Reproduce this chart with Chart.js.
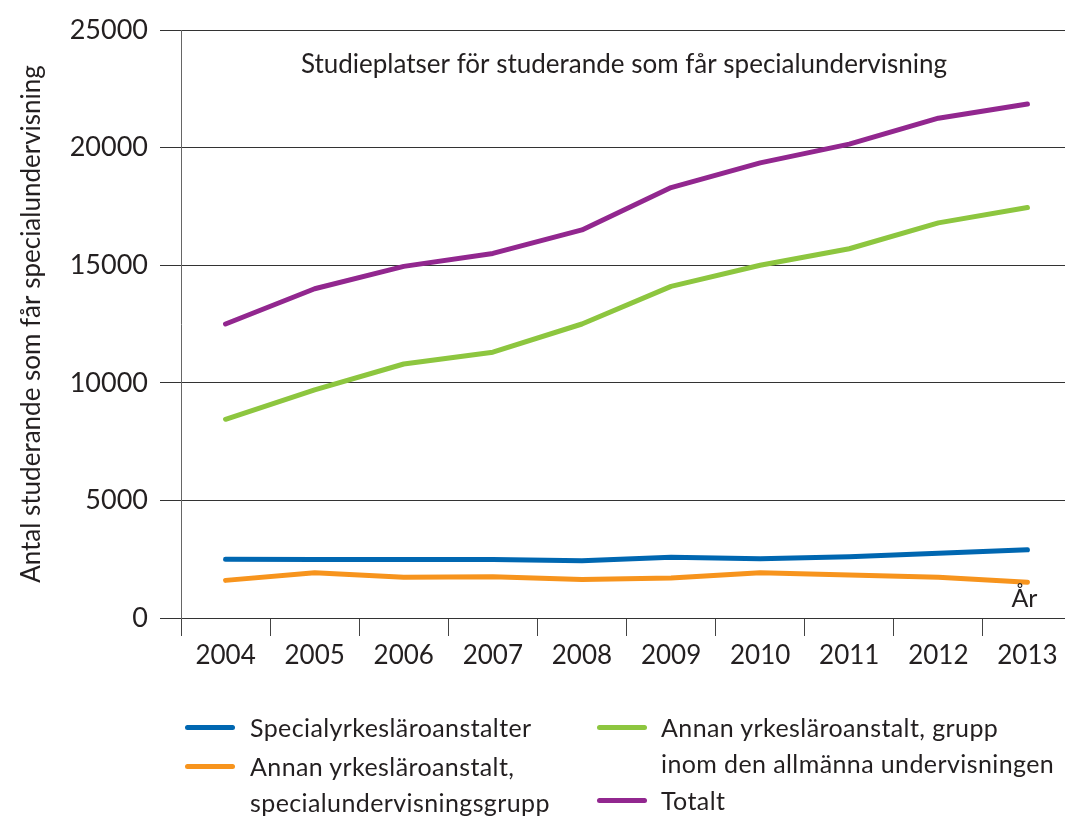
<!DOCTYPE html>
<html><head><meta charset="utf-8">
<script src="https://cdn.jsdelivr.net/npm/chart.js@4.4.0/dist/chart.umd.min.js"></script>
<style>
html,body{margin:0;padding:0;background:#fff;overflow:hidden;width:1065px;height:817px;}
#wrap{position:absolute;left:0;top:0;width:1072px;height:690px;}
#legend{position:absolute;left:0;top:0;width:1065px;height:817px;pointer-events:none;font-family:Lato,sans-serif;color:#231f20;font-size:25px;letter-spacing:0.4px;}
.sw{position:absolute;width:50px;height:5px;border-radius:3px;}
.tx{position:absolute;line-height:36px;white-space:nowrap;}
</style></head>
<body>
<div id="wrap"><canvas id="c" width="1072" height="690"></canvas></div>
<div id="legend"></div>
<script>
const years = ['2004','2005','2006','2007','2008','2009','2010','2011','2012','2013'];
const specialyrkes = [2500,2490,2490,2490,2430,2580,2520,2600,2750,2900];
const annanSpecialgrupp = [1600,1925,1730,1755,1640,1700,1925,1825,1730,1515];
const annanAllman = [8450,9700,10800,11300,12500,14100,15000,15700,16800,17450];
const totalt = [12500,14000,14950,15500,16500,18300,19350,20150,21250,21850];
const yTickValues = [0,5000,10000,15000,20000,25000];
const seriesLabels = [
  ['Specialyrkesläroanstalter'],
  ['Annan yrkesläroanstalt,','specialundervisningsgrupp'],
  ['Annan yrkesläroanstalt, grupp','inom den allmänna undervisningen'],
  ['Totalt']
];
const chartTitle = 'Studieplatser för studerande som får specialundervisning';
const yTitle = 'Antal studerande som får specialundervisning';
const xUnit = 'År';

const colors = ['#0067b1','#f7941d','#8dc63f','#92278f'];
const FONT = 'Lato';
const TEXT = '#231f20';

const seriesData = [specialyrkes, annanSpecialgrupp, annanAllman, totalt];
const datasets = seriesData.map((d,i)=>({
  label: seriesLabels[i].join(' '),
  data: d,
  borderColor: colors[i],
  backgroundColor: colors[i],
  borderWidth: 5,
  borderCapStyle: 'round',
  borderJoinStyle: 'round',
  pointRadius: 0,
  tension: 0,
  fill: false
}));

const annot = {
  id: 'annot',
  afterDraw(c){
    const ctx = c.ctx, a = c.chartArea;
    ctx.save();
    ctx.fillStyle = TEXT;
    ctx.textAlign = 'center';
    ctx.textBaseline = 'middle';
    ctx.font = '26px ' + FONT;
    ctx.fillText(chartTitle, (a.left + 1065) / 2 + 1, a.top + 35);
    ctx.font = '25px ' + FONT;
    ctx.fillText(xUnit, c.scales.x.getPixelForValue(years.length - 1) - 3, a.bottom - 19);
    ctx.restore();
  }
};

const CANVAS_H = 690, AXIS_BOTTOM = 618, AXIS_LEFT = 181;

new Chart(document.getElementById('c'), {
  type: 'line',
  data: { labels: years, datasets },
  plugins: [annot],
  options: {
    responsive: false,
    animation: false,
    layout: { padding: { top: 30, right: 0, left: 0, bottom: 0 } },
    plugins: { legend: { display: false }, tooltip: { enabled: false } },
    scales: {
      x: {
        type: 'category',
        offset: true,
        grid: { offset: true, drawOnChartArea: false, drawTicks: true, tickLength: 18, color: '#444', lineWidth: 1 },
        border: { display: true, color: '#333', width: 1 },
        ticks: { font: { family: FONT, size: 26 }, color: TEXT, padding: 4, maxRotation: 0, autoSkip: false },
        afterFit(s){ s.height = CANVAS_H - AXIS_BOTTOM; }
      },
      y: {
        min: yTickValues[0],
        max: yTickValues[yTickValues.length - 1],
        afterBuildTicks(s){ s.ticks = yTickValues.map(v => ({ value: v })); },
        ticks: { font: { family: FONT, size: 27 }, color: TEXT, padding: 12, callback: v => String(v) },
        grid: { color: '#333', tickLength: 21, lineWidth: 1 },
        border: { display: true, color: '#666', width: 1 },
        title: { display: true, text: yTitle, color: TEXT, font: { family: FONT, size: 26 }, padding: { top: 16, bottom: 0 } },
        afterFit(s){ s.width = AXIS_LEFT; }
      }
    }
  }
});

// HTML legend
const legendPos = [
  { sx: 185, tx: 250, y: 727 },
  { sx: 185, tx: 250, y: 766 },
  { sx: 597, tx: 661, y: 727 },
  { sx: 597, tx: 661, y: 800 }
];
const lg = document.getElementById('legend');
datasets.forEach((ds, i) => {
  const p = legendPos[i];
  const sw = document.createElement('div');
  sw.className = 'sw';
  sw.style.left = p.sx + 'px';
  sw.style.top = (p.y - 2) + 'px';
  sw.style.background = ds.borderColor;
  lg.appendChild(sw);
  const t = document.createElement('div');
  t.className = 'tx';
  t.style.left = p.tx + 'px';
  t.style.top = (p.y - 18) + 'px';
  t.innerHTML = seriesLabels[i].join('<br>');
  lg.appendChild(t);
});
</script>
</body></html>
